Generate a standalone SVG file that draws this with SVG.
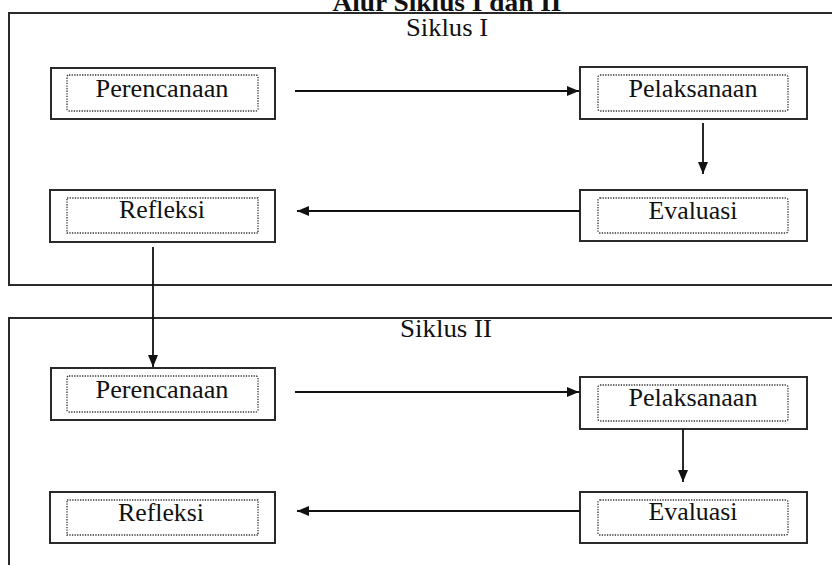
<svg xmlns="http://www.w3.org/2000/svg" width="832" height="565" viewBox="0 0 832 565">
<style>
.cont{fill:none;stroke:#2a2a2a;stroke-width:2}
.outer{fill:#fff;stroke:#2a2a2a;stroke-width:2}
.inner{fill:none;stroke:#333;stroke-width:1.3;stroke-dasharray:1.3 1.3}
.lbl{font-family:"Liberation Serif","Times New Roman",serif;font-size:25px;fill:#111;text-anchor:middle}
.title{font-family:"Liberation Serif","Times New Roman",serif;font-size:25px;font-weight:bold;fill:#111;text-anchor:middle}
.conn{fill:none;stroke:#111;stroke-width:1.8}
</style>
<defs>
<marker id="ah" viewBox="0 0 12 10" refX="12" refY="5" markerWidth="12" markerHeight="10" markerUnits="userSpaceOnUse" orient="auto">
<path d="M0,0 L12,5 L0,10 Z" fill="#111"/>
</marker>
</defs>
<rect width="832" height="565" fill="#fff"/>
<text class="title" x="447" y="11" textLength="229" lengthAdjust="spacingAndGlyphs">Alur Siklus I dan II</text>
<g id="siklus1">
<rect class="cont" x="9" y="13" width="840" height="272"/>
<text class="lbl" x="447" y="36" textLength="82" lengthAdjust="spacingAndGlyphs">Siklus I</text>
</g>
<g id="siklus2">
<rect class="cont" x="9" y="318" width="840" height="280"/>
<text class="lbl" x="446" y="337" textLength="92" lengthAdjust="spacingAndGlyphs">Siklus II</text>
</g>
<g id="perencanaan1">
<rect class="outer" x="51" y="68" width="224" height="51"/>
<rect class="inner" x="67" y="75" width="191" height="36" rx="2"/>
<text class="lbl" x="162" y="97" textLength="133" lengthAdjust="spacingAndGlyphs">Perencanaan</text>
</g>
<g id="pelaksanaan1">
<rect class="outer" x="580" y="67" width="227" height="52"/>
<rect class="inner" x="598" y="75" width="190" height="36" rx="2"/>
<text class="lbl" x="693" y="97" textLength="129" lengthAdjust="spacingAndGlyphs">Pelaksanaan</text>
</g>
<g id="evaluasi1">
<rect class="outer" x="580" y="190" width="227" height="51"/>
<rect class="inner" x="598" y="198" width="190" height="35" rx="2"/>
<text class="lbl" x="693" y="219" textLength="89" lengthAdjust="spacingAndGlyphs">Evaluasi</text>
</g>
<g id="refleksi1">
<rect class="outer" x="50" y="190" width="225" height="52"/>
<rect class="inner" x="67" y="198" width="191" height="35"/>
<text class="lbl" x="162" y="218" textLength="86" lengthAdjust="spacingAndGlyphs">Refleksi</text>
</g>
<g id="perencanaan2">
<rect class="outer" x="51" y="368" width="224" height="52"/>
<rect class="inner" x="67" y="376" width="191" height="36" rx="2"/>
<text class="lbl" x="162" y="398" textLength="133" lengthAdjust="spacingAndGlyphs">Perencanaan</text>
</g>
<g id="pelaksanaan2">
<rect class="outer" x="580" y="377" width="227" height="52"/>
<rect class="inner" x="598" y="385" width="190" height="36" rx="2"/>
<text class="lbl" x="693" y="406" textLength="129" lengthAdjust="spacingAndGlyphs">Pelaksanaan</text>
</g>
<g id="evaluasi2">
<rect class="outer" x="580" y="492" width="227" height="51"/>
<rect class="inner" x="598" y="500" width="190" height="35" rx="2"/>
<text class="lbl" x="693" y="520" textLength="89" lengthAdjust="spacingAndGlyphs">Evaluasi</text>
</g>
<g id="refleksi2">
<rect class="outer" x="50" y="492" width="225" height="51"/>
<rect class="inner" x="67" y="500" width="191" height="35"/>
<text class="lbl" x="161" y="521" textLength="86" lengthAdjust="spacingAndGlyphs">Refleksi</text>
</g>
<g id="connectors">
<line class="conn" x1="295" y1="91" x2="579" y2="91" marker-end="url(#ah)"/>
<line class="conn" x1="703" y1="123" x2="703" y2="174" marker-end="url(#ah)"/>
<line class="conn" x1="580" y1="211" x2="297" y2="211" marker-end="url(#ah)"/>
<line class="conn" x1="153" y1="247" x2="153" y2="367" marker-end="url(#ah)"/>
<line class="conn" x1="295" y1="392" x2="579" y2="392" marker-end="url(#ah)"/>
<line class="conn" x1="683" y1="429" x2="683" y2="482" marker-end="url(#ah)"/>
<line class="conn" x1="580" y1="511" x2="297" y2="511" marker-end="url(#ah)"/>
</g>
</svg>
